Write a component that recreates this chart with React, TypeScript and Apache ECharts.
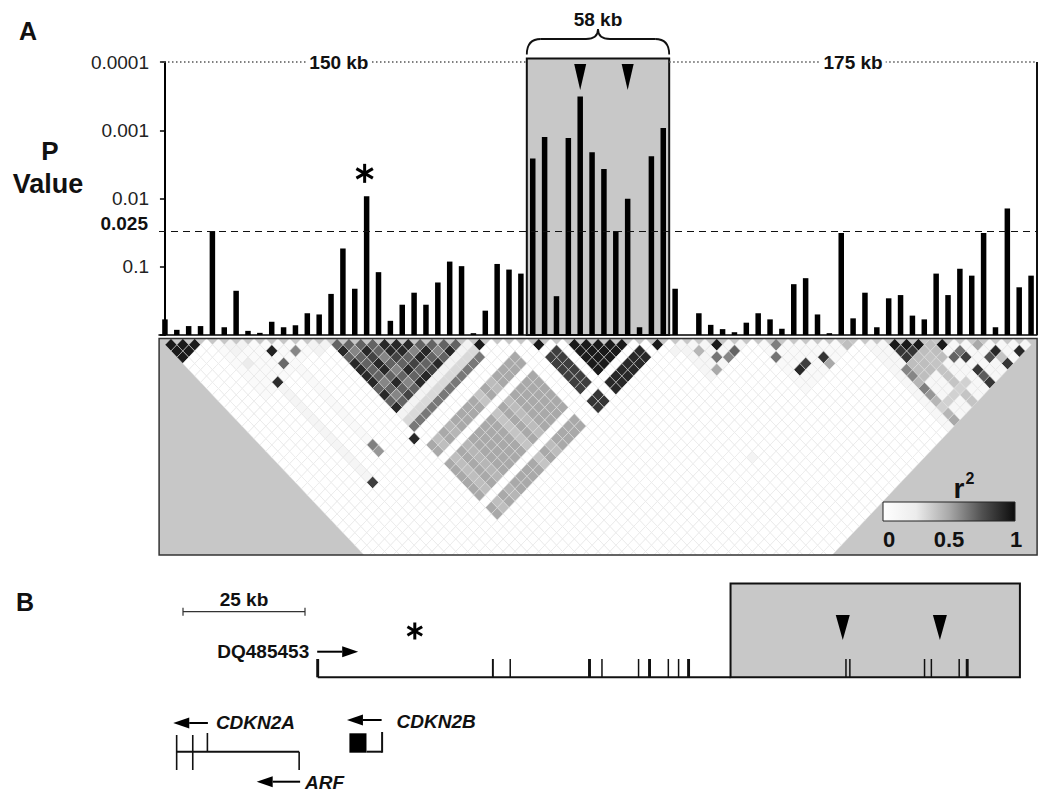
import React, { useEffect, useRef } from 'react';
import * as echarts from 'echarts';

const FONT = '"Liberation Sans", Arial, Helvetica, sans-serif';

// ---------------- Panel A: association P values (one per SNP) ----------------
const pValues = [
  0.59, 0.84, 0.74, 0.74, 0.030, 0.77, 0.225, 0.87, 0.93, 0.64,
  0.77, 0.72, 0.48, 0.50, 0.25, 0.054, 0.21, 0.0093, 0.12, 0.62,
  0.36, 0.24, 0.36, 0.17, 0.084, 0.098, 0.94, 0.44, 0.091, 0.11,
  0.126, 0.0026, 0.00126, 0.27, 0.0013, 0.00032, 0.0021, 0.0037, 0.030, 0.0101,
  0.77, 0.0024, 0.00093, 0.21, 1, 0.48, 0.71, 0.82, 0.91, 0.66,
  0.48, 0.59, 0.81, 0.18, 0.147, 0.50, 0.94, 0.032, 0.57, 0.24,
  0.77, 0.29, 0.26, 0.52, 0.59, 0.126, 0.26, 0.107, 0.135, 0.032,
  0.77, 0.014, 0.20, 0.135,
];
const yTickLabels = ['', '0.1', '0.01', '0.001', '0.0001']; // indexed by -log10(p)
const thresholdP = 0.025;
const thresholdLabel = '0.025';
const riskBlock = [31, 42]; // first / last SNP inside the 58 kb box
const riskBlockLabel = '58 kb';
const leftSpanLabel = '150 kb';
const rightSpanLabel = '175 kb';
const arrowSnps = [35, 39];
const starSnp = 17;

// ---------------- Panel A: LD (r²) matrix, sparse description ----------------
// [iFrom, iTo, jFrom, jTo, r2]  (pairs i<j)
const ldBlocks = [
  [4, 13, 4, 13, 0.07],
  [5, 7, 5, 7, 0.16],
  [12, 14, 12, 14, 0.16],
  [6, 6, 14, 28, 0.13],
  [9, 9, 14, 25, 0.08],
  [43, 49, 43, 49, 0.12],
  [50, 58, 50, 58, 0.08],
  [59, 73, 59, 73, 0.1],
  [0, 3, 0, 3, 0.95],
  [14, 25, 26, 26, 0.16],
  [14, 25, 27, 27, 0.32],
  [14, 25, 28, 28, 0.64],
  [14, 28, 31, 42, 0.5],
  [15, 15, 31, 42, 0.42],
  [17, 17, 31, 42, 0.45],
  [22, 22, 31, 42, 0.4],
  [24, 24, 31, 42, 0.43],
  [31, 32, 31, 32, 0.95],
  [31, 32, 34, 39, 0.82],
  [34, 39, 34, 39, 0.95],
  [34, 39, 41, 42, 0.9],
  [31, 32, 41, 42, 0.85],
  [41, 42, 41, 42, 0.95],
  [60, 64, 65, 67, 0.42],
  [60, 60, 65, 73, 0.45],
  [63, 63, 66, 73, 0.4],
  [61, 64, 61, 64, 0.85],
  [60, 64, 71, 71, 0.35],
  [0, 32, 33, 33, 0],
  [33, 33, 34, 73, 0],
  [0, 39, 40, 40, 0],
  [40, 40, 41, 73, 0],
];
// LD block around the starred SNP: row k = SNP (14+k) vs SNPs 15+k..25, r2 x10
const ldCoreStart = 14;
const ldCoreRows = [
  '79799997979',
  '7677776767',
  '798997978',
  '77676767',
  '9987979',
  '997879',
  '96978',
  '7979',
  '767',
  '79',
  '7',
];
// single pairs [i, j, r2]
const ldPairs = [
  [8, 10, 0.92], [10, 12, 0.6], [8, 12, 0.68], [5, 9, 0.25], [6, 13, 0.88],
  [9, 26, 0.62], [9, 27, 0.55], [6, 29, 0.82], [13, 29, 0.9], [26, 27, 0.95],
  [44, 46, 0.45], [46, 47, 0.95], [45, 48, 0.65], [47, 49, 0.7], [46, 49, 0.6], [44, 49, 0.5],
  [42, 44, 0.15], [43, 45, 0.15],
  [51, 52, 0.62], [50, 53, 0.65], [52, 56, 0.82], [51, 56, 0.9], [54, 57, 0.85], [54, 58, 0.5], [57, 58, 0.42],
  [61, 62, 0.95], [62, 63, 0.95], [63, 64, 0.95], [65, 66, 0.95],
  [60, 65, 0.6], [60, 66, 0.6],
  [66, 68, 0.65], [65, 68, 0.7], [66, 69, 0.82], [68, 69, 0.5],
  [69, 71, 0.9], [68, 71, 0.75], [71, 73, 0.9], [69, 73, 0.85], [69, 72, 0.4],
  [66, 71, 0.85], [66, 72, 0.72], [66, 73, 0.85],
  [60, 68, 0.62], [60, 69, 0.55], [60, 73, 0.5],
  [40, 59, 0.15],
];
const ldColors = ['#ffffff', '#ececec', '#a9a9a9', '#515151', '#0c0c0c'];
const ldLegendTicks = ['0', '0.5', '1'];

// ---------------- Panel B: gene map (kb) ----------------
const scaleBarKb = [0, 25];
const scaleBarLabel = '25 kb';
const dqName = 'DQ485453';
const dqTranscriptKb = [27.6, 171.5];
const dqExonsKb = [
  [27.3, 27.9], [63.3, 63.7], [66.9, 67.2], [83.0, 83.6], [85.7, 86.0], [93.2, 93.5],
  [95.3, 95.9], [99.3, 99.6], [101.4, 101.7], [103.3, 103.9], [135.7, 136.0], [136.5, 136.8],
  [151.8, 152.1], [153.2, 153.5], [158.9, 159.2], [160.4, 161.0],
];
const dqArrowKb = [27.5, 35.9];
const riskRegionKb = [112.2, 171.5];
const riskSnpKb = [135.2, 155.1];
const starKb = 47.5;
const cdkn2aExonsKb = [-1.3, 2.0, 5.0];
const cdkn2aEndKb = 23.8;
const cdkn2aArrowKb = [5.1, -2.0];
const arfArrowKb = [24.0, 15.1];
const cdkn2bExonKb = [34.1, 37.6];
const cdkn2bEndKb = 40.8;
const cdkn2bArrowKb = [40.7, 33.6];

const N = pValues.length;
const LD_Y_MAX = 216.5 / 12.53;

function buildLd() {
  const m = new Map<number, number>();
  const set = (i: number, j: number, v: number) => { if (i < j) m.set(i * 1000 + j, v); };
  for (const [i0, i1, j0, j1, v] of ldBlocks) {
    for (let i = i0; i <= i1; i++) for (let j = j0; j <= j1; j++) set(i, j, v);
  }
  ldCoreRows.forEach((row, k) => {
    const i = ldCoreStart + k;
    row.split('').forEach((c, t) => set(i, i + 1 + t, Number(c) / 10));
  });
  for (const [i, j, v] of ldPairs) set(i, j, v);
  const out: number[][] = [];
  for (let d = 1; d <= 36; d++) {
    for (let i = 0; i + d < N; i++) {
      const j = i + d;
      out.push([i, j, m.get(i * 1000 + j) ?? 0]);
    }
  }
  return out;
}

function buildOption() {
  return {
    animation: false,
    backgroundColor: '#ffffff',
    grid: [
      { left: 159, top: 62, width: 878, height: 273, show: false },
      { left: 159.1, top: 338.5, width: 878, height: 216.5, show: true, backgroundColor: '#c7c7c7', borderWidth: 0 },
      { left: 158.6, top: 580, width: 878.4, height: 200, show: false },
    ],
    xAxis: [
      {
        gridIndex: 0, type: 'value', min: -0.5, max: 73.5,
        axisLine: { show: true, onZero: false, lineStyle: { color: '#000', width: 1.5 } },
        axisTick: { show: false }, axisLabel: { show: false }, splitLine: { show: false },
      },
      { gridIndex: 1, type: 'value', min: -0.5, max: 73.5, show: false },
      { gridIndex: 2, type: 'value', min: -5, max: 175, show: false },
    ],
    yAxis: [
      {
        gridIndex: 0, type: 'log', logBase: 10, min: 0.0001, max: 1, inverse: true,
        axisLine: { show: true, lineStyle: { color: '#000', width: 2 } },
        axisTick: { show: true, length: 5, lineStyle: { color: '#000', width: 1.5 } },
        axisLabel: {
          margin: 10, fontSize: 19, color: '#222', fontFamily: FONT,
          formatter: (v: number) => yTickLabels[Math.round(-Math.log10(v))] ?? '',
        },
        splitLine: { show: false },
      },
      { gridIndex: 1, type: 'value', min: 0, max: LD_Y_MAX, inverse: true, show: false },
      { gridIndex: 2, type: 'value', min: 0, max: 1, show: false },
    ],
    visualMap: {
      show: false, type: 'continuous', seriesIndex: 1, dimension: 2, min: 0, max: 1,
      inRange: { color: ldColors },
    },
    series: [
      {
        type: 'bar', xAxisIndex: 0, yAxisIndex: 0,
        data: pValues.map((p, i) => [i, p]),
        barWidth: 5.5,
        itemStyle: { color: '#000' },
        markLine: {
          silent: true, symbol: ['none', 'none'], label: { show: false },
          lineStyle: { type: [7, 5], color: '#111', width: 1.2 },
          data: [{ yAxis: thresholdP }],
        },
      },
      {
        type: 'custom', xAxisIndex: 1, yAxisIndex: 1, clip: true,
        data: buildLd(),
        renderItem: (_params: any, api: any) => {
          const i = api.value(0);
          const j = api.value(1);
          const cx = (i + j) / 2;
          const cy = (j - i) / 2;
          const pts = [
            api.coord([cx - 0.5, cy]), api.coord([cx, cy - 0.5]),
            api.coord([cx + 0.5, cy]), api.coord([cx, cy + 0.5]),
          ];
          return {
            type: 'polygon', shape: { points: pts },
            style: { fill: api.visual('color'), stroke: '#e6e6e6', lineWidth: 0.5 },
          };
        },
      },
    ],
  };
}

function txt(text: string, x: number, y: number, size: number, weight = 'bold', align = 'center', style = 'normal') {
  return {
    type: 'text', x, y, z: 20,
    style: { text, font: `${style} ${weight} ${size}px ${FONT}`, fill: '#111', align, verticalAlign: 'middle' },
  };
}
function ln(x1: number, y1: number, x2: number, y2: number, lw = 2, stroke = '#111', dash?: number[], z = 6) {
  return { type: 'line', z, shape: { x1, y1, x2, y2 }, style: { stroke, lineWidth: lw, lineDash: dash } };
}
function star(cx: number, cy: number, r: number, lw: number) {
  const out: any[] = [];
  [90, 30, 150].forEach((a) => {
    const dx = r * Math.cos((a * Math.PI) / 180);
    const dy = r * Math.sin((a * Math.PI) / 180);
    out.push(ln(cx - dx, cy - dy, cx + dx, cy + dy, lw, '#000'));
  });
  return out;
}
function arrow(xTail: number, xHead: number, y: number) {
  const dir = xHead > xTail ? 1 : -1;
  const hl = 16;
  return [
    ln(xTail, y, xHead - dir * hl, y, 2, '#000'),
    { type: 'polygon', z: 6, shape: { points: [[xHead, y], [xHead - dir * hl, y - 5.5], [xHead - dir * hl, y + 5.5]] }, style: { fill: '#000' } },
  ];
}

function buildGraphics(chart: any) {
  const g: any[] = [];
  const pA = (x: number, y: number) => chart.convertToPixel({ gridIndex: 0 }, [x, y]);
  const pB = (kb: number) => chart.convertToPixel({ xAxisIndex: 2 }, kb);
  const [gl, yTop] = pA(-0.5, 1e-4);
  const [gr, yBase] = pA(73.5, 1);
  const boxL = pA(riskBlock[0] - 0.5, 1)[0];
  const boxR = pA(riskBlock[1] + 0.5, 1)[0];

  // panel labels
  g.push(txt('A', 28, 31, 25));
  g.push(txt('P', 50, 151, 26));
  g.push(txt('Value', 48, 184, 27));
  g.push(txt('B', 25, 602, 25));

  // threshold label
  const yThr = pA(0, thresholdP)[1];
  g.push(txt(thresholdLabel, 148, yThr - 2, 19, 'bold', 'right'));

  // risk block box
  const boxTop = yTop - 3.5;
  g.push({ type: 'rect', z: 1, shape: { x: boxL, y: boxTop, width: boxR - boxL, height: yBase - boxTop }, style: { fill: '#c8c8c8', stroke: '#111', lineWidth: 2 } });

  // dotted span lines + right border
  g.push(ln(gl + 1, yTop, boxL, yTop, 1.5, '#555', [1.5, 2.5], 3));
  g.push(ln(boxR, yTop, gr, yTop, 1.5, '#555', [1.5, 2.5], 3));
  g.push(ln(gr, yTop, gr, yBase, 2, '#111', undefined, 3));
  const spanText = (t: string, x: number) => ({
    type: 'text', x, y: yTop, z: 20,
    style: { text: t, font: `bold 19px ${FONT}`, fill: '#111', align: 'center', verticalAlign: 'middle', backgroundColor: '#fff', padding: [1, 3] },
  });
  g.push(spanText(leftSpanLabel, (gl + boxL) / 2 - 4));
  g.push(spanText(rightSpanLabel, (boxR + gr) / 2));

  // brace + label
  const M = (boxL + boxR) / 2;
  const yb = boxTop - 4, ym = 39, yt = 29;
  const bez = (x1: number, y1: number, cx: number, cy: number, x2: number, y2: number) => ({
    type: 'bezierCurve', z: 6, shape: { x1, y1, x2, y2, cpx1: cx, cpy1: cy }, style: { stroke: '#111', lineWidth: 1.8, fill: 'none' },
  });
  g.push(bez(boxL, yb, boxL, ym, boxL + 14, ym));
  g.push(ln(boxL + 14, ym, M - 12, ym, 1.8));
  g.push(bez(M - 12, ym, M, ym, M, yt));
  g.push(bez(M, yt, M, ym, M + 12, ym));
  g.push(ln(M + 12, ym, boxR - 14, ym, 1.8));
  g.push(bez(boxR - 14, ym, boxR, ym, boxR, yb));
  g.push(txt(riskBlockLabel, M, 19, 19));

  // arrowheads above key SNPs
  arrowSnps.forEach((s) => {
    const x = pA(s, 1)[0];
    g.push({ type: 'polygon', z: 6, shape: { points: [[x - 6, yTop + 2], [x + 6, yTop + 2], [x, yTop + 28]] }, style: { fill: '#000' } });
  });

  // asterisk over starred SNP
  const sp = pA(starSnp, pValues[starSnp]);
  g.push(...star(sp[0] - 2, sp[1] - 23, 9.5, 3));

  // LD frame
  const f0 = chart.convertToPixel({ gridIndex: 1 }, [-0.5, 0]);
  const f1 = chart.convertToPixel({ gridIndex: 1 }, [73.5, LD_Y_MAX]);
  g.push({ type: 'rect', z: 10, shape: { x: f0[0], y: f0[1], width: f1[0] - f0[0], height: f1[1] - f0[1] }, style: { fill: 'none', stroke: '#333', lineWidth: 1.5 } });

  // r² legend
  const lg = { x: 883, y: 502, w: 132, h: 19 };
  g.push({
    type: 'rect', z: 12, shape: { x: lg.x, y: lg.y, width: lg.w, height: lg.h },
    style: {
      fill: new echarts.graphic.LinearGradient(0, 0, 1, 0, ldColors.map((c, k) => ({ offset: k / (ldColors.length - 1), color: c }))),
      stroke: '#222', lineWidth: 1,
    },
  });
  g.push(txt('r', 959, 488, 28));
  g.push(txt('2', 970, 478, 16));
  g.push(txt(ldLegendTicks[0], lg.x + 6, 539, 22));
  g.push(txt(ldLegendTicks[1], lg.x + lg.w / 2, 539, 22));
  g.push(txt(ldLegendTicks[2], lg.x + lg.w + 1, 539, 22));

  // ---------- Panel B ----------
  const sx0 = pB(scaleBarKb[0]);
  const sx1 = pB(scaleBarKb[1]);
  const ySc = 611.7;
  g.push(ln(sx0, ySc, sx1, ySc, 1.2, '#333'));
  g.push(ln(sx0, ySc - 4, sx0, ySc + 4, 1.2, '#333'));
  g.push(ln(sx1, ySc - 4, sx1, ySc + 4, 1.2, '#333'));
  g.push(txt(scaleBarLabel, (sx0 + sx1) / 2, 599, 19));

  const yLine = 677.3;
  const yEx = 659;
  const bx0 = pB(riskRegionKb[0]);
  const bx1 = pB(riskRegionKb[1]);
  g.push({ type: 'rect', z: 1, shape: { x: bx0, y: 583.5, width: bx1 - bx0, height: yLine - 583.5 }, style: { fill: '#c8c8c8', stroke: '#111', lineWidth: 2 } });
  g.push(ln(pB(dqTranscriptKb[0]), yLine, bx0, yLine, 2));
  dqExonsKb.forEach(([a, b]) => {
    const x0 = pB(a);
    const w = Math.max(1.5, pB(b) - x0);
    g.push({ type: 'rect', z: 5, shape: { x: x0, y: yEx, width: w, height: yLine - yEx }, style: { fill: '#111' } });
  });
  riskSnpKb.forEach((kb) => {
    const x = pB(kb);
    g.push({ type: 'polygon', z: 6, shape: { points: [[x - 7, 615], [x + 7, 615], [x, 640]] }, style: { fill: '#000' } });
  });
  g.push(...star(pB(starKb), 631, 8.5, 3));

  g.push(...arrow(pB(dqArrowKb[0]), pB(dqArrowKb[1]), 651.7));
  g.push(txt(dqName, pB(dqArrowKb[0]) - 8, 651.7, 19, 'bold', 'right'));

  // CDKN2A
  g.push(...arrow(pB(cdkn2aArrowKb[0]), pB(cdkn2aArrowKb[1]), 723));
  g.push(txt('CDKN2A', pB(cdkn2aArrowKb[0]) + 8, 722, 19, 'bold', 'left', 'italic'));
  const yA = 751.7;
  g.push(ln(pB(cdkn2aExonsKb[0]), yA, pB(cdkn2aEndKb), yA, 2));
  g.push(ln(pB(cdkn2aExonsKb[0]), 735, pB(cdkn2aExonsKb[0]), 770, 1.6));
  g.push(ln(pB(cdkn2aExonsKb[1]), 735, pB(cdkn2aExonsKb[1]), 770, 1.6));
  g.push(ln(pB(cdkn2aExonsKb[2]), 733, pB(cdkn2aExonsKb[2]), yA, 1.6));
  g.push(ln(pB(cdkn2aEndKb), yA, pB(cdkn2aEndKb), 770, 1.6));
  g.push(...arrow(pB(arfArrowKb[0]), pB(arfArrowKb[1]), 781.7));
  g.push(txt('ARF', pB(arfArrowKb[0]) + 5, 782, 19, 'bold', 'left', 'italic'));

  // CDKN2B
  g.push(...arrow(pB(cdkn2bArrowKb[0]), pB(cdkn2bArrowKb[1]), 720));
  g.push(txt('CDKN2B', pB(cdkn2bArrowKb[0]) + 15, 721, 19, 'bold', 'left', 'italic'));
  const e0 = pB(cdkn2bExonKb[0]);
  const e1 = pB(cdkn2bExonKb[1]);
  g.push({ type: 'rect', z: 5, shape: { x: e0, y: 733.3, width: e1 - e0, height: 19.4 }, style: { fill: '#000' } });
  g.push(ln(e1, yA, pB(cdkn2bEndKb), yA, 2));
  g.push(ln(pB(cdkn2bEndKb), 732, pB(cdkn2bEndKb), yA + 1, 2));

  return g;
}

export default function App() {
  const ref = useRef<HTMLDivElement>(null);
  useEffect(() => {
    const chart = echarts.init(ref.current as HTMLDivElement, null, { renderer: 'svg' });
    chart.setOption(buildOption() as any);
    chart.setOption({ graphic: buildGraphics(chart) } as any);
    return () => chart.dispose();
  }, []);
  return (
    <div
      ref={ref}
      style={{ position: 'absolute', left: 0, top: 0, width: 1050, height: 810, background: '#fff' }}
    />
  );
}
